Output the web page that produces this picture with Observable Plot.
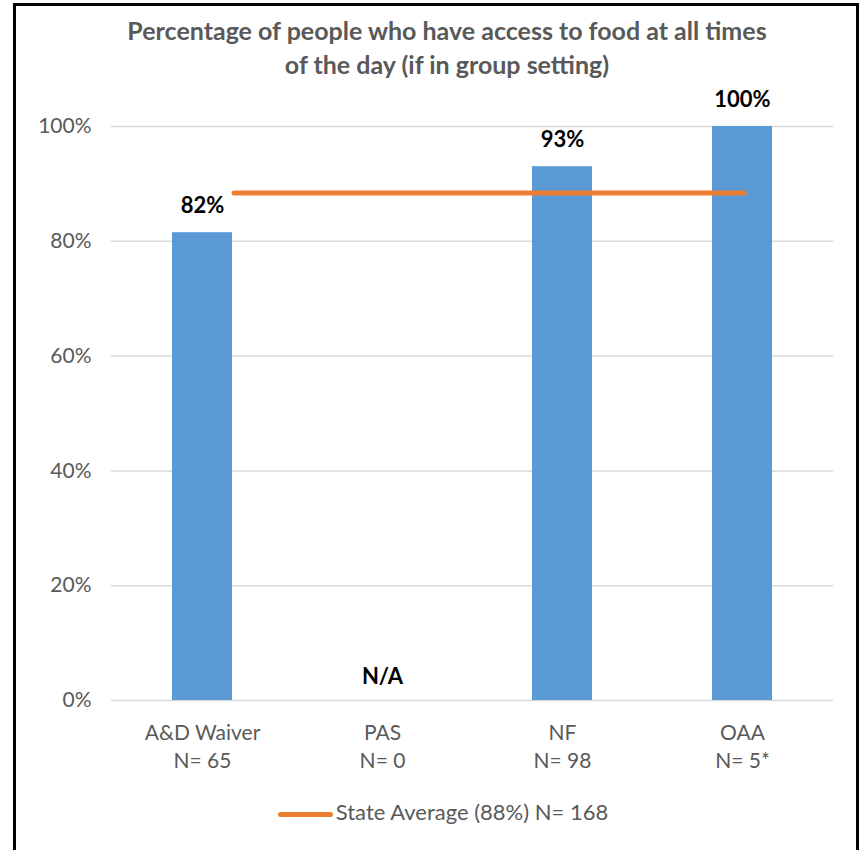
<!DOCTYPE html>
<html><head><meta charset="utf-8">
<script src="https://cdn.jsdelivr.net/npm/d3@7"></script>
<script src="https://cdn.jsdelivr.net/npm/@observablehq/plot@0.6"></script>
<style>
body{margin:0;background:#fff;font-family:Lato,"Open Sans",sans-serif;}
#wrap{position:relative;width:865px;height:850px;overflow:hidden;background:#fff;}
#frame{position:absolute;left:13px;top:3px;width:846px;height:880px;border:3px solid #000;box-sizing:border-box;}
#title{position:absolute;top:13px;left:0;width:894px;text-align:center;font-weight:bold;font-size:25px;line-height:34px;color:#595959;}
#chart{position:absolute;top:60px;left:0;}
#legend{position:absolute;top:799px;left:0;width:886px;text-align:center;font-size:22px;color:#595959;line-height:26px;}
#legend .sw{display:inline-block;width:55px;height:5px;border-radius:3px;background:#ED7D31;vertical-align:middle;margin-right:3px;}
</style>
</head><body>
<div id="wrap">
<div id="frame"></div>
<div id="title">Percentage of people who have access to food at all times<br>of the day (if in group setting)</div>
<div id="chart"></div>
<div id="legend"><span class="sw"></span>State Average (88%) N= 168</div>
</div>
<script>
const categories = ["A&D Waiver", "PAS", "NF", "OAA"];
const values = [81.5, null, 93.0, 100];
const nLabels = ["N= 65", "N= 0", "N= 98", "N= 5*"];
const stateAverage = 88.4;
const yTicks = [0, 20, 40, 60, 80, 100];

const rows = categories.map((c, i) => ({cat: c, value: values[i], n: nLabels[i]}));
const present = rows.filter(d => d.value != null);
const missing = rows.filter(d => d.value == null);

const chart = Plot.plot({
  width: 865,
  height: 720,
  marginTop: 66,
  marginBottom: 80,
  marginLeft: 111,
  marginRight: 32,
  style: {color: "#595959", fontFamily: "Lato, 'Open Sans', sans-serif", background: "transparent"},
  x: {domain: categories, paddingInner: 0.667, paddingOuter: 0.333, axis: null},
  y: {domain: [0, 100], axis: null},
  marks: [
    Plot.ruleY(yTicks, {stroke: "#d9d9d9", strokeWidth: 1.5}),
    Plot.axisY(yTicks, {tickSize: 0, tickPadding: 20, tickFormat: d => d + "%", fontSize: 21, label: null}),
    Plot.axisX({tickSize: 0, tickPadding: 20, fontSize: 21, lineHeight: 1.33, label: null,
      tickFormat: d => d + "\n" + nLabels[categories.indexOf(d)]}),
    Plot.barY(present, {x: "cat", y: "value", fill: "#5B9BD5"}),
    Plot.ruleY([stateAverage], {x1: () => categories[0], x2: () => categories[categories.length - 1],
      insetLeft: 62, insetRight: 28,
      stroke: "#ED7D31", strokeWidth: 5, strokeLinecap: "round"}),
    Plot.text(present, {x: "cat", y: "value", text: d => Math.round(d.value) + "%", dy: -27,
      fontWeight: "bold", fontSize: 22, fill: "#000"}),
    Plot.text(missing, {x: "cat", y: () => 0, text: () => "N/A", dy: -24,
      fontWeight: "bold", fontSize: 22, fill: "#000"})
  ]
});
document.getElementById("chart").appendChild(chart);
</script>
</body></html>
